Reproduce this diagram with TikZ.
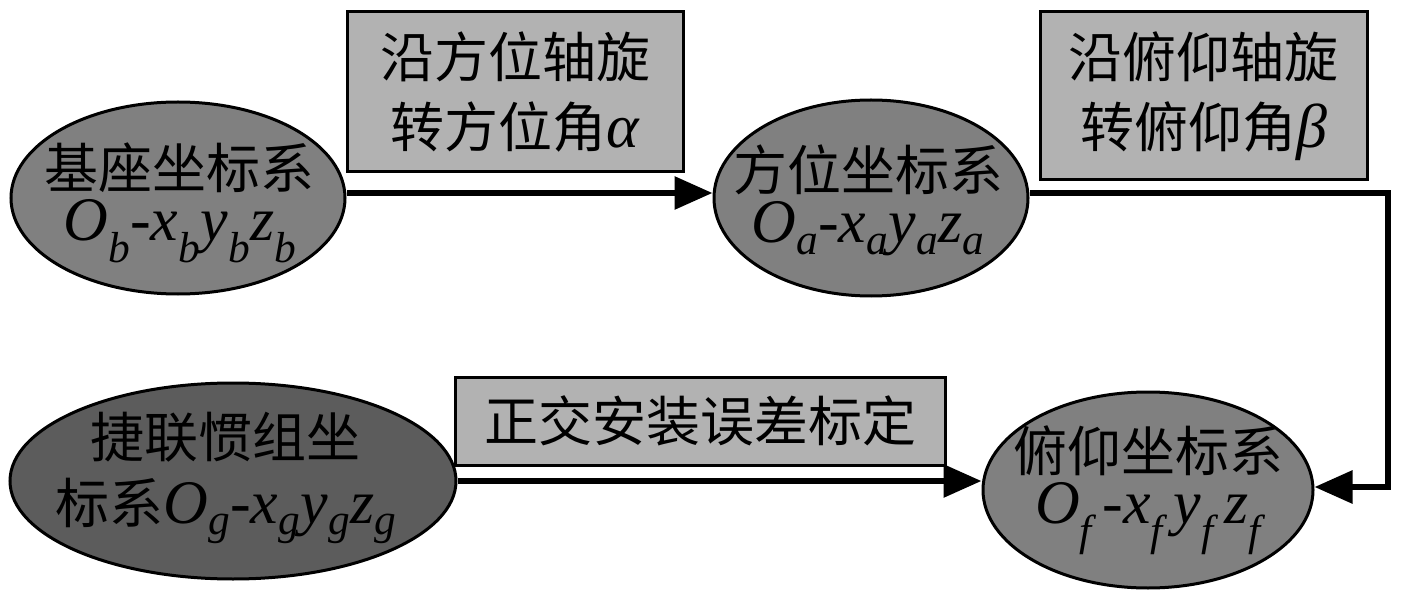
\documentclass[tikz,border=0pt]{standalone}
\usepackage{fontspec}
\setmainfont{Liberation Serif}
\newfontfamily\cjk{Noto Sans CJK SC}
\newfontfamily\latfont{Liberation Serif}
\usetikzlibrary{arrows.meta,shapes.geometric}
\definecolor{ellgray}{HTML}{808080}
\definecolor{elldark}{HTML}{5C5C5C}
\definecolor{boxgray}{HTML}{B2B2B2}
\newcommand\lat[1]{{\latfont\itshape\fontsize{62}{50}\selectfont #1}}
\newcommand\sbs[1]{\textsubscript{#1}}
\begin{document}
\begin{tikzpicture}[x=1pt,y=-1pt,
  ell/.style={ellipse, draw, line width=3pt, fill=ellgray, inner sep=0pt},
  etxt/.style={inner sep=0pt, align=center, font=\fontsize{54}{52}\selectfont\cjk},
  lbl/.style={rectangle, draw, line width=3pt, fill=boxgray, inner sep=0pt, align=center,
    font=\fontsize{54}{70}\selectfont\cjk},
  arr/.style={line width=6pt, line join=miter, -{Triangle[length=38pt,width=32pt]}}]
\useasboundingbox (0,0) rectangle (1417,596);
\node[ell, minimum width=334pt, minimum height=192pt] (e1) at (178,198) {};
\node[ell, minimum width=314pt, minimum height=196pt] (e2) at (871,198) {};
\node[ell, minimum width=330pt, minimum height=196pt] (e3) at (1148,490) {};
\node[ell, fill=elldark, minimum width=446pt, minimum height=196pt] (e4) at (233,481) {};
\node[etxt] (t1) at (180,203)
  {基座坐标系\\\lat{O\sbs{b}-x\sbs{b}y\sbs{b}z\sbs{b}}};
\node[etxt] (t2) at (868,200)
  {方位坐标系\\\lat{O\sbs{a}-x\sbs{a}y\sbs{a}z\sbs{a}}};
\node[etxt] (t3) at (1148,490)
  {俯仰坐标系\\\lat{O\sbs{f}\,-x\sbs{f}\,y\sbs{f}\,z\sbs{f}}};
\node[etxt, font=\fontsize{54}{66}\selectfont\cjk] (t4) at (226,478)
  {捷联惯组坐\\标系\lat{O\sbs{g}-x\sbs{g}y\sbs{g}z\sbs{g}}};
\node[lbl, minimum width=336pt, minimum height=160pt] (b1) at (515,92)
  {沿方位轴旋\\转方位角\lat{α}};
\node[lbl, minimum width=327pt, minimum height=168pt] (b2) at (1203.5,96)
  {沿俯仰轴旋\\转俯仰角\lat{β}};
\node[lbl, minimum width=490pt, minimum height=88pt] (b3) at (700,421)
  {正交安装误差标定};
\coordinate (k1) at (1388,193);
\coordinate (k2) at (1388,487);
\draw[arr] (e1.east |- k1) -- (e2.west |- k1);
\draw[arr] (e2.east |- k1) -- (k1) -- (k2) -- (e3.east |- k2);
\draw[arr] (e4.east) -- (e4.east -| e3.west);
\end{tikzpicture}
\end{document}
